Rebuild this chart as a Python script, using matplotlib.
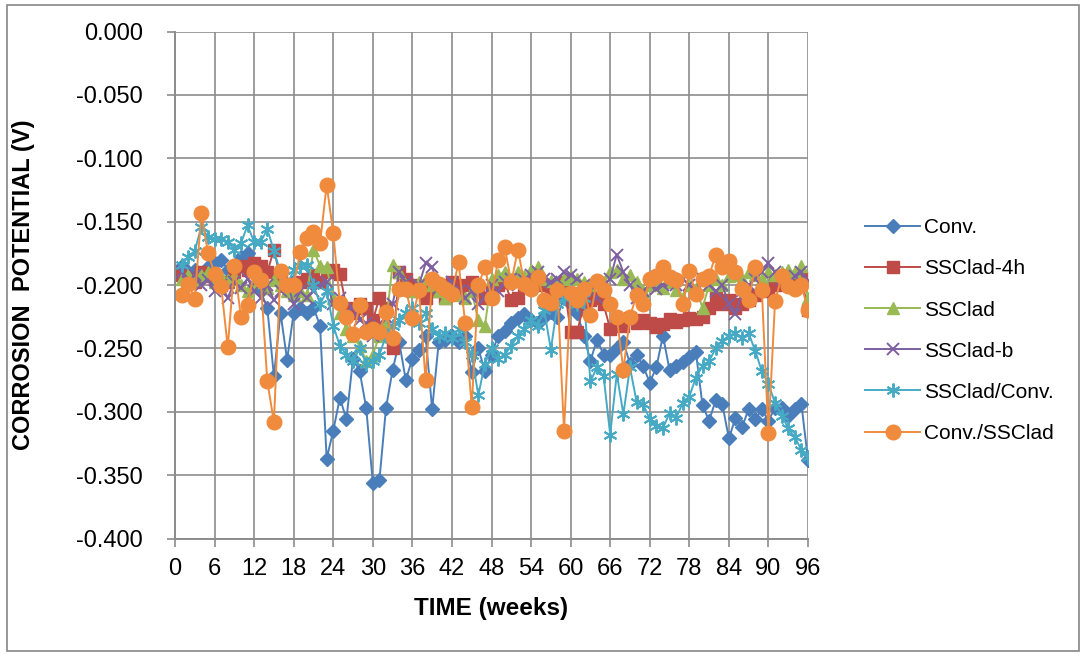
import matplotlib
matplotlib.use("Agg")
import matplotlib.pyplot as plt
from matplotlib.patches import Rectangle
import numpy as np

plt.rcParams['font.family'] = ['Liberation Sans', 'DejaVu Sans']

weeks = list(range(1, 97))

conv = [-0.185, -0.190, -0.188, -0.192, -0.186, -0.183, -0.180, -0.188, -0.185, -0.178,
        -0.175, -0.190, -0.205, -0.218, -0.272, -0.222, -0.259, -0.222, -0.218, -0.222,
        -0.218, -0.232, -0.337, -0.315, -0.289, -0.306, -0.258, -0.268, -0.297, -0.356,
        -0.354, -0.297, -0.267, -0.245, -0.275, -0.258, -0.251, -0.240, -0.298, -0.245,
        -0.243, -0.240, -0.245, -0.240, -0.269, -0.250, -0.268, -0.255, -0.240, -0.236,
        -0.230, -0.226, -0.223, -0.228, -0.230, -0.225, -0.221, -0.225, -0.210, -0.215,
        -0.222, -0.240, -0.260, -0.243, -0.255, -0.255, -0.250, -0.245, -0.262, -0.255,
        -0.264, -0.277, -0.265, -0.240, -0.267, -0.264, -0.261, -0.257, -0.253, -0.295,
        -0.307, -0.291, -0.294, -0.321, -0.305, -0.312, -0.298, -0.306, -0.298, -0.307,
        -0.297, -0.297, -0.303, -0.298, -0.294, -0.338]

ssclad_4h = [-0.192, -0.195, -0.198, -0.190, -0.193, -0.195, -0.200, -0.198, -0.190, -0.185,
             -0.188, -0.183, -0.185, -0.190, -0.172, -0.195, -0.200, -0.205, -0.198, -0.195,
             -0.192, -0.198, -0.190, -0.188, -0.191, -0.218, -0.222, -0.215, -0.218, -0.228,
             -0.210, -0.218, -0.250, -0.190, -0.195, -0.200, -0.205, -0.210, -0.205, -0.200,
             -0.210, -0.198, -0.203, -0.200, -0.198, -0.205, -0.210, -0.205, -0.200, -0.198,
             -0.212, -0.210, -0.200, -0.198, -0.195, -0.200, -0.205, -0.200, -0.198, -0.237,
             -0.237, -0.215, -0.212, -0.210, -0.215, -0.235, -0.228, -0.232, -0.226, -0.230,
             -0.228, -0.230, -0.233, -0.231, -0.227, -0.229, -0.228, -0.226, -0.227, -0.225,
             -0.218, -0.210, -0.215, -0.212, -0.218, -0.215, -0.212, -0.208, -0.204, -0.205,
             -0.200, -0.198, -0.200, -0.196, -0.194, -0.220]

ssclad = [-0.195, -0.192, -0.196, -0.192, -0.190, -0.198, -0.193, -0.196, -0.193, -0.200,
          -0.205, -0.198, -0.196, -0.202, -0.196, -0.200, -0.205, -0.208, -0.205, -0.208,
          -0.172, -0.185, -0.186, -0.210, -0.222, -0.235, -0.240, -0.248, -0.260, -0.255,
          -0.240, -0.230, -0.184, -0.190, -0.200, -0.205, -0.198, -0.195, -0.200, -0.205,
          -0.210, -0.205, -0.208, -0.210, -0.205, -0.228, -0.232, -0.195, -0.192, -0.190,
          -0.195, -0.190, -0.193, -0.188, -0.186, -0.195, -0.197, -0.200, -0.195, -0.193,
          -0.195, -0.198, -0.200, -0.196, -0.198, -0.190, -0.188, -0.195, -0.192, -0.198,
          -0.205, -0.200, -0.198, -0.202, -0.198, -0.204, -0.210, -0.200, -0.203, -0.218,
          -0.200, -0.195, -0.200, -0.193, -0.192, -0.195, -0.190, -0.192, -0.195, -0.190,
          -0.192, -0.190, -0.188, -0.190, -0.185, -0.210]

ssclad_b = [-0.190, -0.198, -0.192, -0.200, -0.196, -0.205, -0.200, -0.210, -0.198, -0.202,
            -0.195, -0.205, -0.210, -0.200, -0.212, -0.205, -0.198, -0.215, -0.205, -0.210,
            -0.205, -0.200, -0.198, -0.215, -0.210, -0.222, -0.218, -0.228, -0.230, -0.240,
            -0.232, -0.225, -0.215, -0.190, -0.198, -0.205, -0.200, -0.183, -0.186, -0.202,
            -0.200, -0.198, -0.205, -0.210, -0.205, -0.215, -0.210, -0.200, -0.205, -0.198,
            -0.195, -0.200, -0.196, -0.192, -0.190, -0.195, -0.198, -0.195, -0.190, -0.192,
            -0.195, -0.200, -0.205, -0.210, -0.200, -0.195, -0.176, -0.190, -0.200, -0.210,
            -0.205, -0.200, -0.203, -0.200, -0.198, -0.200, -0.195, -0.200, -0.205, -0.195,
            -0.200, -0.205, -0.200, -0.215, -0.223, -0.205, -0.200, -0.195, -0.190, -0.183,
            -0.190, -0.195, -0.200, -0.193, -0.190, -0.197]

ssclad_conv = [-0.184, -0.178, -0.173, -0.154, -0.162, -0.164, -0.164, -0.166, -0.172, -0.167,
               -0.153, -0.166, -0.166, -0.156, -0.173, -0.190, -0.200, -0.188, -0.185, -0.184,
               -0.200, -0.215, -0.205, -0.232, -0.248, -0.255, -0.260, -0.250, -0.262, -0.260,
               -0.255, -0.240, -0.232, -0.228, -0.222, -0.218, -0.230, -0.222, -0.235, -0.240,
               -0.238, -0.242, -0.235, -0.245, -0.255, -0.287, -0.262, -0.250, -0.258, -0.255,
               -0.248, -0.240, -0.235, -0.228, -0.232, -0.220, -0.251, -0.215, -0.210, -0.205,
               -0.215, -0.210, -0.276, -0.265, -0.272, -0.318, -0.270, -0.302, -0.265, -0.292,
               -0.294, -0.306, -0.311, -0.313, -0.301, -0.305, -0.293, -0.288, -0.273, -0.264,
               -0.260, -0.250, -0.244, -0.240, -0.238, -0.242, -0.238, -0.252, -0.268, -0.278,
               -0.293, -0.303, -0.313, -0.320, -0.330, -0.336]

conv_ssclad = [-0.208, -0.199, -0.211, -0.143, -0.175, -0.191, -0.201, -0.249, -0.185, -0.225,
               -0.216, -0.190, -0.196, -0.276, -0.308, -0.189, -0.200, -0.200, -0.174, -0.163,
               -0.158, -0.167, -0.121, -0.159, -0.214, -0.225, -0.239, -0.216, -0.237, -0.235,
               -0.237, -0.221, -0.242, -0.203, -0.203, -0.226, -0.204, -0.275, -0.195, -0.199,
               -0.203, -0.207, -0.182, -0.230, -0.296, -0.200, -0.186, -0.210, -0.180, -0.170,
               -0.198, -0.172, -0.199, -0.203, -0.194, -0.212, -0.214, -0.204, -0.315, -0.206,
               -0.212, -0.203, -0.224, -0.197, -0.204, -0.215, -0.225, -0.267, -0.225, -0.208,
               -0.215, -0.195, -0.193, -0.186, -0.194, -0.196, -0.215, -0.189, -0.207, -0.195,
               -0.193, -0.176, -0.186, -0.181, -0.190, -0.203, -0.212, -0.186, -0.204, -0.317,
               -0.213, -0.193, -0.201, -0.203, -0.200, -0.220]

x_ticks = list(range(0, 97, 6))
y_ticks = [0.0, -0.05, -0.1, -0.15, -0.2, -0.25, -0.3, -0.35, -0.4]

W, H = 1086, 655
fig = plt.figure(figsize=(W / 100, H / 100), dpi=100)
fig.patches.append(Rectangle((7 / W, 4 / H), 1072 / W, 646 / H, transform=fig.transFigure,
                             fill=False, edgecolor='#868686', linewidth=1.2))

ax = fig.add_axes([175 / W, 1 - 538.5 / H, 633 / W, (538.5 - 31.5) / H])

styles = [
    (conv, 'Conv.', '#4A7EBB', dict(marker='D', ms=7.5)),
    (ssclad_4h, 'SSClad-4h', '#BE4B48', dict(marker='s', ms=8.5)),
    (ssclad, 'SSClad', '#98B954', dict(marker='^', ms=9)),
    (ssclad_b, 'SSClad-b', '#7D60A0', dict(marker='x', ms=8.5, mew=1.4)),
    (ssclad_conv, 'SSClad/Conv.', '#46AAC5', dict(marker=(6, 2, 0), ms=10, mew=1.4)),
    (conv_ssclad, 'Conv./SSClad', '#F08A3C', dict(marker='o', ms=10.5)),
]
for vals, name, col, mk in styles:
    ax.plot(weeks, vals, color=col, lw=1.4, label=name, mfc=col, mec=col, **mk)

ax.set_xlim(0, 96)
ax.set_ylim(-0.4, 0.0)
ax.set_xticks(x_ticks)
ax.set_xticklabels([str(t) for t in x_ticks])
ax.set_yticks(y_ticks)
ax.set_yticklabels([f"{t:.3f}" if t != 0 else "0.000" for t in y_ticks])
ax.grid(True, color='#8C8C8C', lw=1.2)
ax.set_axisbelow(True)
for s in ['top', 'right']:
    ax.spines[s].set_visible(False)
for s in ['left', 'bottom']:
    ax.spines[s].set_color('#8C8C8C')
    ax.spines[s].set_linewidth(1.4)
ax.tick_params(axis='both', direction='out', length=6, width=1.2, color='#8C8C8C',
               labelsize=17, labelcolor='black')
ax.tick_params(axis='y', pad=17)
ax.tick_params(axis='x', pad=8)

ax.set_xlabel('TIME (weeks)', fontsize=17.5, fontweight='bold', labelpad=12)
ax.set_ylabel('CORROSION  POTENTIAL (V)', fontsize=17, fontweight='bold', labelpad=30)

leg = fig.legend(loc='upper left', bbox_to_anchor=(855 / W, 1 - 208 / H), frameon=False,
                 fontsize=15, handlelength=2.6, handletextpad=0.2, labelspacing=1.06,
                 borderpad=0)

fig.savefig('out.png', dpi=100)
